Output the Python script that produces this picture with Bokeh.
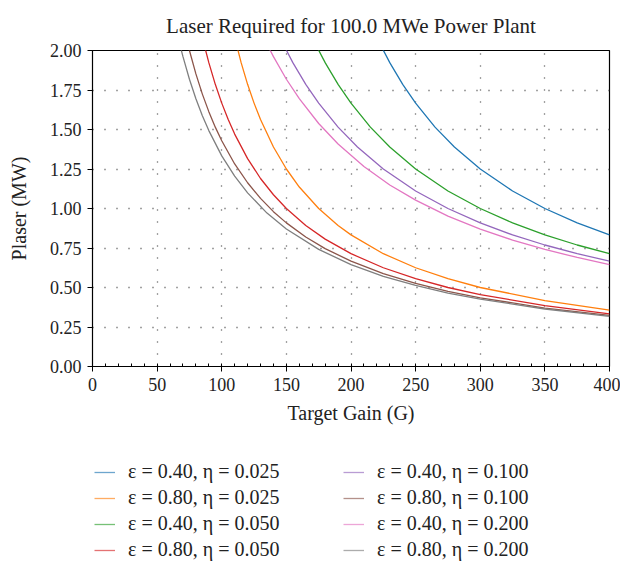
from bokeh.plotting import figure
from bokeh.layouts import column
from bokeh.models import Legend, LegendItem, Range1d, FixedTicker, PrintfTickFormatter
from bokeh.embed import file_html
from bokeh.resources import INLINE

# Data: target gain G and laser power (MW) per series
g_blue = [222, 230, 240, 250, 265, 280, 300, 325, 350, 375, 400]
p_blue = [2.049, 1.923, 1.786, 1.667, 1.515, 1.389, 1.250, 1.111, 1.000, 0.909, 0.833]

g_orange = [110, 115, 120, 125, 130, 140, 150, 160, 175, 190, 200, 225, 250, 275, 300, 350, 400]
p_orange = [2.083, 1.923, 1.786, 1.667, 1.563, 1.389, 1.250, 1.136, 1.000, 0.893, 0.833, 0.714, 0.625, 0.556, 0.500, 0.417, 0.357]

g_green = [172, 180, 190, 200, 215, 230, 250, 275, 300, 325, 350, 375, 400]
p_green = [2.049, 1.923, 1.786, 1.667, 1.515, 1.389, 1.250, 1.111, 1.000, 0.909, 0.833, 0.769, 0.714]

g_red = [86, 90, 95, 100, 105, 110, 120, 130, 140, 150, 165, 180, 200, 225, 250, 275, 300, 350, 400]
p_red = [2.049, 1.923, 1.786, 1.667, 1.563, 1.471, 1.316, 1.190, 1.087, 1.000, 0.893, 0.806, 0.714, 0.625, 0.556, 0.500, 0.455, 0.385, 0.333]

g_purple = [147, 155, 165, 175, 190, 205, 225, 250, 275, 300, 325, 350, 375, 400]
p_purple = [2.049, 1.923, 1.786, 1.667, 1.515, 1.389, 1.250, 1.111, 1.000, 0.909, 0.833, 0.769, 0.714, 0.667]

g_brown = [73, 75, 80, 85, 90, 95, 100, 110, 120, 130, 140, 150, 165, 180, 200, 225, 250, 275, 300, 350, 400]
p_brown = [2.066, 2.000, 1.852, 1.724, 1.613, 1.515, 1.429, 1.282, 1.163, 1.064, 0.980, 0.909, 0.820, 0.746, 0.667, 0.588, 0.526, 0.476, 0.435, 0.370, 0.323]

g_pink = [135, 140, 150, 160, 175, 190, 210, 230, 250, 275, 300, 325, 350, 375, 400]
p_pink = [2.041, 1.961, 1.818, 1.695, 1.538, 1.408, 1.266, 1.149, 1.053, 0.952, 0.870, 0.800, 0.741, 0.690, 0.645]

g_gray = [68, 70, 75, 80, 85, 90, 100, 110, 120, 135, 150, 175, 200, 225, 250, 275, 300, 350, 400]
p_gray = [2.024, 1.961, 1.818, 1.695, 1.587, 1.493, 1.333, 1.205, 1.099, 0.971, 0.870, 0.741, 0.645, 0.571, 0.513, 0.465, 0.426, 0.364, 0.317]

labels = [
    "ε = 0.40, η = 0.025", "ε = 0.80, η = 0.025",
    "ε = 0.40, η = 0.050", "ε = 0.80, η = 0.050",
    "ε = 0.40, η = 0.100", "ε = 0.80, η = 0.100",
    "ε = 0.40, η = 0.200", "ε = 0.80, η = 0.200",
]
colors = ["#1f77b4", "#ff7f0e", "#2ca02c", "#d62728",
          "#9467bd", "#8c564b", "#e377c2", "#7f7f7f"]
series = [(g_blue, p_blue), (g_orange, p_orange), (g_green, p_green), (g_red, p_red),
          (g_purple, p_purple), (g_brown, p_brown), (g_pink, p_pink), (g_gray, p_gray)]

x_ticks = [0, 50, 100, 150, 200, 250, 300, 350, 400]
y_ticks = [0.0, 0.25, 0.5, 0.75, 1.0, 1.25, 1.5, 1.75, 2.0]

FONT = "Liberation Serif"
TXT = "#222222"

p = figure(width=620, height=430, output_backend="svg", toolbar_location=None,
           x_range=Range1d(0, 400), y_range=Range1d(0, 2.0),
           min_border_left=92, min_border_right=11, min_border_top=50,
           min_border_bottom=64)

p.title.text = "Laser Required for 100.0 MWe Power Plant"
p.title.text_font = FONT
p.title.text_font_size = "21px"
p.title.text_font_style = "normal"
p.title.text_color = TXT
p.title.align = "center"
p.title.vertical_align = "top"
p.title.standoff = 21

p.outline_line_color = "black"
p.outline_line_width = 1.2

for ax in (p.xaxis[0], p.yaxis[0]):
    ax.axis_line_color = "black"
    ax.major_tick_line_color = "black"
    ax.minor_tick_line_color = "black"
    ax.major_tick_out = 5
    ax.major_tick_in = 0
    ax.minor_tick_in = 3
    ax.minor_tick_out = 0
    ax.major_label_text_font = FONT
    ax.major_label_text_font_size = "18px"
    ax.major_label_text_color = TXT
    ax.major_label_standoff = 6
    ax.axis_label_text_font = FONT
    ax.axis_label_text_font_size = "20px"
    ax.axis_label_text_font_style = "normal"
    ax.axis_label_text_color = TXT

p.xaxis.ticker = FixedTicker(ticks=x_ticks, minor_ticks=list(range(0, 401, 10)))
p.yaxis.ticker = FixedTicker(ticks=y_ticks)
p.yaxis.formatter = PrintfTickFormatter(format="%.2f")
p.xaxis.axis_label = "Target Gain (G)"
p.yaxis.axis_label = "Plaser (MW)"
p.xaxis.axis_label_standoff = 8
p.yaxis.axis_label_standoff = 17

p.xgrid.ticker = FixedTicker(ticks=x_ticks)
p.ygrid.ticker = FixedTicker(ticks=y_ticks)
for gr in (p.xgrid[0], p.ygrid[0]):
    gr.grid_line_color = "#444444"
    gr.grid_line_dash = "1 11"
    gr.grid_line_width = 1.3

for (gx, py), c in zip(series, colors):
    p.line(gx, py, line_color=c, line_width=1.3)

# Legend panel below the chart (same series, view window shows only the legend)
p2 = figure(width=620, height=131, output_backend="svg", toolbar_location=None,
            x_range=Range1d(-20, -10), y_range=Range1d(-20, -10),
            x_axis_type=None, y_axis_type=None,
            min_border_left=0, min_border_right=0, min_border_top=0,
            min_border_bottom=0)
p2.outline_line_color = None
p2.grid.visible = False

items = []
for (gx, py), c, lab in zip(series, colors, labels):
    r = p2.line(gx, py, line_color=c, line_width=1.3, line_alpha=0.65)
    items.append(LegendItem(label=lab, renderers=[r]))

legend = Legend(items=items, ncols=2, location=(2, 0),
                label_text_font=FONT, label_text_font_size="20px",
                label_text_color=TXT,
                glyph_width=21, glyph_height=20, label_height=20,
                label_width=212, label_standoff=13, spacing=3,
                padding=0, margin=0, border_line_color=None,
                background_fill_alpha=0)
p2.add_layout(legend)

layout = column(p, p2, spacing=0)
open("out.html", "w").write(file_html(layout, INLINE))
